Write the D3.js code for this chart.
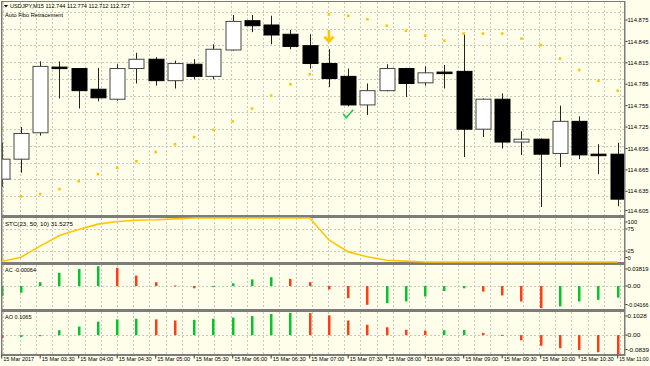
<!DOCTYPE html>
<html>
<head>
<meta charset="utf-8">
<script src="https://cdn.jsdelivr.net/npm/d3@7"></script>
<style>
  html, body { margin: 0; padding: 0; background: #fffeea; }
  svg { display: block; font-family: "Liberation Sans", Arial, sans-serif; }
</style>
</head>
<body>
<svg id="chart" width="650" height="366"></svg>
<script>
// USDJPY M15 bars, 03:00 .. 11:00
const opens  = [114.652,114.680,114.717,114.809,114.807,114.778,114.764,114.807,114.820,114.790,114.813,114.796,114.833,114.874,114.868,114.855,114.839,114.814,114.796,114.756,114.776,114.807,114.787,114.802,114.803,114.722,114.764,114.704,114.708,114.688,114.733,114.687,114.687];
const highs  = [114.703,114.725,114.817,114.817,114.807,114.808,114.813,114.829,114.823,114.818,114.820,114.841,114.882,114.882,114.881,114.861,114.855,114.834,114.807,114.786,114.813,114.808,114.810,114.812,114.856,114.765,114.772,114.719,114.709,114.755,114.740,114.701,114.703];
const lows   = [114.641,114.661,114.713,114.765,114.751,114.761,114.762,114.786,114.783,114.779,114.792,114.792,114.832,114.858,114.841,114.834,114.807,114.781,114.754,114.742,114.775,114.767,114.783,114.779,114.683,114.711,114.695,114.686,114.613,114.669,114.680,114.659,114.614];
const closes = [114.680,114.716,114.810,114.808,114.776,114.766,114.807,114.820,114.790,114.814,114.796,114.834,114.873,114.867,114.854,114.838,114.814,114.793,114.756,114.776,114.807,114.786,114.801,114.801,114.722,114.764,114.704,114.708,114.687,114.733,114.686,114.686,114.624];

// parabolic dots
const sar = [114.723,114.628,114.631,114.638,114.649,114.659,114.668,114.677,114.690,114.701,114.711,114.721,114.733,114.751,114.769,114.785,114.799,114.883,114.881,114.876,114.867,114.860,114.853,114.846,114.856,114.856,114.856,114.849,114.840,114.821,114.805,114.790,114.776];

// STC(23,50,10)
const stcValues = [1,11,36,60,74,86,92,95,96,98,100,100,100,100,100,100,100,50,23,12,4,2,0,0,0,0,0,0,0,0,0,0,0];

// Accelerator / Awesome oscillators
const acValues = [-0.018,-0.012,0.007,0.024,0.031,0.036,0.033,0.019,0.007,0.001,-0.004,-0.002,0.005,0.012,0.016,0.013,0.007,-0.006,-0.022,-0.034,-0.031,-0.028,-0.019,-0.009,-0.004,-0.010,-0.017,-0.028,-0.040,-0.037,-0.028,-0.025,-0.021];
const aoValues = [-0.012,-0.008,-0.002,0.022,0.038,0.060,0.070,0.073,0.070,0.065,0.068,0.073,0.078,0.085,0.094,0.099,0.098,0.088,0.065,0.046,0.035,0.024,0.020,0.022,0.023,0.010,0.001,-0.023,-0.047,-0.058,-0.066,-0.076,-0.084];
const acFirstUp = true, aoFirstUp = false;

// signals
const sellSignals = [{bar: 17, price: 114.844}];
const okSignals = [{bar: 18, price: 114.743}];

// axis labels
const timeLabels = ["15 Mar 2017","15 Mar 03:30","15 Mar 04:00","15 Mar 04:30","15 Mar 05:00","15 Mar 05:30","15 Mar 06:00","15 Mar 06:30","15 Mar 07:00","15 Mar 07:30","15 Mar 08:00","15 Mar 08:30","15 Mar 09:00","15 Mar 09:30","15 Mar 10:00","15 Mar 10:30","15 Mar 11:00"];
const priceTicks = [114.875,114.845,114.815,114.785,114.755,114.725,114.695,114.665,114.635,114.605];
const stcTicks = [100,75,25,0];
const acTicks = [0.03819,0,-0.04166];
const aoTicks = [0.1028,0,-0.0839];

const svg = d3.select("#chart");
const left = 2, right = 624;
const main = {y0: 2, y1: 215}, stc = {y0: 218, y1: 262}, ac = {y0: 265, y1: 309}, ao = {y0: 312, y1: 354};

const x = d3.scaleLinear().domain([0, 32]).range([1.7, 617.7]);
const y = d3.scaleLinear().domain([114.605, 114.875]).range([212.7, 20]);
const yStc = d3.scaleLinear().domain([0, 100]).range([stc.y1, stc.y0]);
const yAc = d3.scaleLinear().domain([-0.04166, 0.03819]).range([ac.y1, ac.y0]);
const yAo = d3.scaleLinear().domain([-0.0839, 0.1028]).range([ao.y1, ao.y0]);

const bg = "#fffeea", frame = "#7c7c7c", gridC = "#c9c9c0";
const up = "#00c828", down = "#ff3c14", gold = "#ffc600";

svg.append("rect").attr("width", 650).attr("height", 366).attr("fill", bg);

const defs = svg.append("defs");
[["clipMain", main], ["clipStc", stc], ["clipAc", ac], ["clipAo", ao]].forEach(([id, p]) => {
  defs.append("clipPath").attr("id", id).append("rect")
    .attr("x", left).attr("y", p.y0).attr("width", right - left).attr("height", p.y1 - p.y0);
});

// grid: fixed pixel cells like the terminal draws them
const gridX = d3.range(3.4, right, 16.23);
const grid = svg.append("g").attr("stroke", gridC).attr("stroke-dasharray", "2,2").attr("stroke-width", 1);
[main, stc, ac, ao].forEach(p => {
  gridX.forEach(gx => grid.append("line")
    .attr("x1", Math.round(gx) + 0.5).attr("x2", Math.round(gx) + 0.5).attr("y1", p.y0).attr("y2", p.y1));
});
const hLines = d3.range(196, main.y0, -16.74)
  .concat([yStc(75), yStc(25), yAc(0), yAo(0)]);
hLines.forEach(hy => grid.append("line")
  .attr("x1", left).attr("x2", right).attr("y1", Math.round(hy) + 0.5).attr("y2", Math.round(hy) + 0.5));

// candles
const bars = d3.range(opens.length).map(i => ({i, o: opens[i], h: highs[i], l: lows[i], c: closes[i]}));
const cg = svg.append("g").attr("clip-path", "url(#clipMain)");
const bodyW = 15;
cg.selectAll(".wick").data(bars).enter().append("line")
  .attr("x1", d => Math.round(x(d.i)) + 0.5).attr("x2", d => Math.round(x(d.i)) + 0.5)
  .attr("y1", d => y(d.h)).attr("y2", d => y(d.l))
  .attr("stroke", "#222").attr("stroke-width", 1);
cg.selectAll(".body").data(bars).enter().append("rect")
  .attr("x", d => Math.round(x(d.i)) - bodyW / 2 + 0.5)
  .attr("y", d => y(Math.max(d.o, d.c)))
  .attr("width", bodyW)
  .attr("height", d => Math.max(1.5, Math.abs(y(d.o) - y(d.c))))
  .attr("fill", d => d.c > d.o ? "#ffffff" : "#000000")
  .attr("stroke", d => d.c > d.o ? "#444" : "#000")
  .attr("stroke-width", 1);

// parabolic dots
cg.selectAll(".sar").data(sar).enter().append("rect")
  .attr("x", (d, i) => x(i) - 1.3).attr("y", d => y(d) - 1.3)
  .attr("width", 2.6).attr("height", 2.6).attr("fill", gold);

// signals
sellSignals.forEach(s => {
  svg.append("path")
    .attr("transform", `translate(${x(s.bar)},${y(s.price)})`)
    .attr("d", "M0,-12V-2M-4.5,-5.5L0,-0.5L4.5,-5.5")
    .attr("fill", "none").attr("stroke", gold).attr("stroke-width", 2.6);
});
okSignals.forEach(s => {
  svg.append("path")
    .attr("transform", `translate(${x(s.bar)},${y(s.price)})`)
    .attr("d", "M-5,-0.5L-2,3.5L5,-4.5")
    .attr("fill", "none").attr("stroke", "#1ecb48").attr("stroke-width", 1.7);
});

// histograms
function hist(values, scale, firstUp, clip) {
  const g = svg.append("g").attr("clip-path", `url(#${clip})`);
  g.selectAll("rect").data(values).enter().append("rect")
    .attr("x", (d, i) => Math.round(x(i)) - 1)
    .attr("y", d => Math.min(scale(d), scale(0)))
    .attr("width", 2.5)
    .attr("height", d => Math.max(1, Math.abs(scale(d) - scale(0))))
    .attr("fill", (d, i) => (i === 0 ? firstUp : d >= values[i - 1]) ? up : down);
}
hist(acValues, yAc, acFirstUp, "clipAc");
hist(aoValues, yAo, aoFirstUp, "clipAo");

// frames
const fr = svg.append("g").attr("fill", frame);
fr.append("rect").attr("x", 1).attr("y", 1).attr("width", right - 1).attr("height", 1);
fr.append("rect").attr("x", 1).attr("y", 1).attr("width", 1.5).attr("height", ao.y1 + 1);
fr.append("rect").attr("x", right).attr("y", 1).attr("width", 1.5).attr("height", ao.y1 + 1);
[[main.y1, stc.y0], [stc.y1, ac.y0], [ac.y1, ao.y0], [ao.y1, ao.y1 + 2]].forEach(([a, b]) => {
  fr.append("rect").attr("x", 1).attr("y", a).attr("width", right).attr("height", b - a);
});

// STC line sits over the frame like in the terminal
svg.append("path").datum(stcValues)
  .attr("d", d3.line().x((d, i) => x(i)).y(d => yStc(d)))
  .attr("fill", "none").attr("stroke", gold).attr("stroke-width", 1.6);

// text helper: squeeze to the width the terminal font takes;
// near the right edge shrink the font instead so nothing runs off
const fs = 6.2;
const txt = svg.append("g").attr("font-size", fs).attr("fill", "#000");
function label(tx, ty, s, w) {
  const t = txt.append("text").attr("x", tx).attr("y", ty).text(s);
  const len = t.node().getComputedTextLength();
  if (tx + len > 648.5) {
    t.attr("font-size", fs * (648.5 - tx) / len);
  } else if (w) {
    t.attr("textLength", w).attr("lengthAdjust", "spacingAndGlyphs");
  }
  return t;
}

function rightLabels(ticks, scale, p, fmt) {
  ticks.forEach(t => {
    const ty = Math.max(p.y0 + 4, Math.min(p.y1 - 4.5, scale(t)));
    txt.append("line").attr("x1", right + 1.5).attr("x2", right + 3.5).attr("y1", ty).attr("y2", ty).attr("stroke", "#000").attr("stroke-width", 0.8);
    const s = fmt(t);
    label(right + 3.5, ty + 2.2, s, Math.min(21.5, s.length * 3.2));
  });
}
rightLabels(priceTicks, y, main, d3.format(".3f"));
rightLabels(stcTicks, yStc, stc, d => String(d));
rightLabels(acTicks, yAc, ac, d => d === 0 ? "0.00" : d.toFixed(5));
rightLabels(aoTicks, yAo, ao, d => d === 0 ? "0.00" : d.toFixed(4));

timeLabels.forEach((t, k) => {
  const tx = x(k * 2);
  txt.append("line").attr("x1", tx).attr("x2", tx).attr("y1", 355.5).attr("y2", 358.5).attr("stroke", "#000").attr("stroke-width", 0.8);
  label(tx + 1.5, 361, t, k === 0 ? 31 : 33);
});

// captions
txt.append("path").attr("d", "M4,5H8L6,7.5Z").attr("fill", "#000");
label(10, 8, "USDJPY,M15 112.744 112.774 112.712 112.727", 120);
label(5, 16.5, "Auto Fibo Retracement", 58);
label(5, stc.y0 + 7.5, "STC(23, 50, 10) 31.5275", 68);
label(5, ac.y0 + 6.5, "AC -0.00064", 31);
label(5, ao.y0 + 6.5, "AO 0.1065", 26.5);
</script>
</body>
</html>
